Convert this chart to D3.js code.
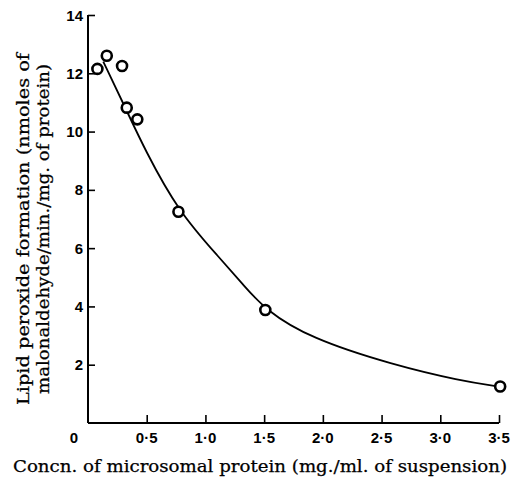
<!DOCTYPE html>
<html>
<head>
<meta charset="utf-8">
<script src="https://cdn.jsdelivr.net/npm/d3@7"></script>
<style>
  body { margin: 0; background: #fff; }
  .tick-label { font-family: "Liberation Sans", Arial, sans-serif; font-weight: bold; font-size: 15px; }
  .title { font-family: "DejaVu Serif", serif; font-size: 16.5px; stroke: #000; stroke-width: 0.25px; }
</style>
</head>
<body>
<script>
// measured points (mg./ml., nmoles/min./mg.)
var protein = [0.08, 0.16, 0.29, 0.33, 0.42, 0.77, 1.51, 3.51];
var peroxide = [12.15, 12.6, 12.25, 10.82, 10.42, 7.25, 3.88, 1.25];

// hand-drawn fitted curve
var curveX = [0.13, 0.32, 0.485, 0.77, 1.124, 1.323, 1.51, 1.89, 2.6, 3.17, 3.5];
var curveY = [12.4, 10.8, 9.37, 7.25, 5.65, 4.74, 3.88, 2.91, 1.99, 1.45, 1.25];

var xTicks = [0.5, 1.0, 1.5, 2.0, 2.5, 3.0, 3.5];
var yTicks = [2, 4, 6, 8, 10, 12, 14];

var width = 512;
var height = 480;

var x = d3.scaleLinear().domain([0, 3.5]).range([88, 499]);
var y = d3.scaleLinear().domain([0, 14]).range([423, 15]);

var svg = d3.select('body').append('svg')
  .attr('width', width)
  .attr('height', height);

function fmt(d) {
  return d3.format('.1f')(d).replace('.', '\u00b7');
}

// axes drawn with d3 axis, ticks pointing inward
var xAxis = d3.axisTop(x).tickValues(xTicks).tickSize(8).tickFormat('');
var yAxis = d3.axisRight(y).tickValues(yTicks).tickSize(7).tickFormat('');

svg.append('g')
  .attr('transform', 'translate(0,' + y(0) + ')')
  .call(xAxis)
  .call(function(g) {
    g.select('.domain').attr('d', 'M' + x(0) + ',0H' + x(3.5)).attr('stroke-width', 2);
    g.selectAll('.tick line').attr('stroke-width', 1.6);
  });

svg.append('g')
  .attr('transform', 'translate(' + x(0) + ',0)')
  .call(yAxis)
  .call(function(g) {
    g.select('.domain').attr('d', 'M0,' + y(14) + 'V' + y(0)).attr('stroke-width', 2);
    g.selectAll('.tick line').attr('stroke-width', 1.6);
  });

svg.append('g').selectAll('text').data(xTicks).enter().append('text')
  .attr('class', 'tick-label')
  .attr('x', x)
  .attr('y', 443)
  .attr('text-anchor', 'middle')
  .text(fmt);

svg.append('g').selectAll('text').data(yTicks).enter().append('text')
  .attr('class', 'tick-label')
  .attr('x', 83)
  .attr('y', function(d) { return y(d) + 5.5; })
  .attr('text-anchor', 'end')
  .text(function(d) { return d; });

svg.append('text')
  .attr('class', 'tick-label')
  .attr('x', 74)
  .attr('y', 443)
  .attr('text-anchor', 'middle')
  .text('0');

var line = d3.line()
  .x(function(d) { return x(d[0]); })
  .y(function(d) { return y(d[1]); })
  .curve(d3.curveBasis);

svg.append('path')
  .datum(d3.zip(curveX, curveY))
  .attr('d', line)
  .attr('fill', 'none')
  .attr('stroke', '#000')
  .attr('stroke-width', 1.8);

svg.append('g').selectAll('circle').data(d3.zip(protein, peroxide)).enter().append('circle')
  .attr('cx', function(d) { return x(d[0]); })
  .attr('cy', function(d) { return y(d[1]); })
  .attr('r', 5)
  .attr('fill', '#fff')
  .attr('stroke', '#000')
  .attr('stroke-width', 2.6);

svg.append('text')
  .attr('class', 'title')
  .attr('x', 260)
  .attr('y', 472)
  .attr('text-anchor', 'middle')
  .attr('textLength', 494)
  .attr('lengthAdjust', 'spacingAndGlyphs')
  .text('Concn. of microsomal protein (mg./ml. of suspension)');

var yTitle = svg.append('g')
  .attr('class', 'title')
  .attr('transform', 'translate(0,229) rotate(-90)');

yTitle.append('text')
  .attr('x', 0).attr('y', 29)
  .attr('text-anchor', 'middle')
  .attr('textLength', 352)
  .attr('lengthAdjust', 'spacingAndGlyphs')
  .text('Lipid peroxide formation (nmoles of');

yTitle.append('text')
  .attr('x', 0).attr('y', 49)
  .attr('text-anchor', 'middle')
  .attr('textLength', 330)
  .attr('lengthAdjust', 'spacingAndGlyphs')
  .text('malonaldehyde/min./mg. of protein)');
</script>
</body>
</html>
